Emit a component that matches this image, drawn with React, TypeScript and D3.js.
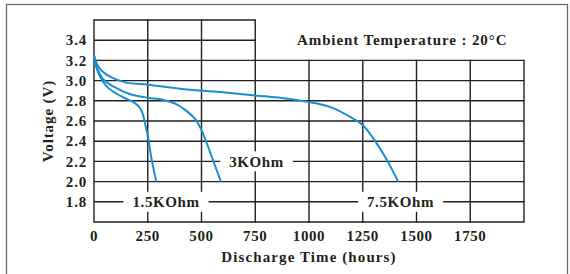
import * as d3 from 'd3'
import React from 'react'

// discharge curves, [hours, volts]
const curve15k: [number, number][] = [
  [0, 3.25], [10, 3.14], [28, 3.04], [60, 2.94], [105, 2.87], [150, 2.82], [185, 2.785],
  [210, 2.74], [225, 2.68], [240, 2.55], [253, 2.42], [268, 2.22], [290, 2.0],
]
const curve3k: [number, number][] = [
  [0, 3.25], [15, 3.12], [40, 3.02], [75, 2.96], [110, 2.92], [170, 2.865], [250, 2.83],
  [320, 2.81], [380, 2.77], [430, 2.7], [470, 2.62], [500, 2.51], [540, 2.29], [590, 2.0],
]
const curve75k: [number, number][] = [
  [0, 3.25], [15, 3.16], [35, 3.1], [74, 3.04], [150, 2.98], [253, 2.96], [400, 2.92],
  [586, 2.887], [750, 2.853], [900, 2.82], [1000, 2.787], [1100, 2.737], [1200, 2.63],
  [1253, 2.553], [1307, 2.403], [1361, 2.22], [1415, 2.0],
]
const series = [curve15k, curve3k, curve75k]

const xTicks = [0, 250, 500, 750, 1000, 1250, 1500, 1750, 2000]
const xTickLabels = ['0', '250', '500', '750', '1000', '1250', '1500', '1750', '']
const yTicks = [1.6, 1.8, 2.0, 2.2, 2.4, 2.6, 2.8, 3.0, 3.2, 3.4, 3.6]
const yTickLabels = ['', '1.8', '2.0', '2.2', '2.4', '2.6', '2.8', '3.0', '3.2', '3.4', '']

// curve name tags: text, hours, volts
const tagText = ['1.5KOhm', '3KOhm', '7.5KOhm']
const tagHours = [335, 756, 1426]
const tagVolts = [1.8, 2.2, 1.8]

const W = 570, H = 274
const ink = '#231f20'
const blue = '#1690cf'
const font = '"Liberation Serif", "Times New Roman", serif'

export default function App() {
  const ref = React.useRef<SVGSVGElement>(null)

  React.useEffect(() => {
    const svg = d3.select(ref.current!)
    svg.selectAll('*').remove()

    const x = d3.scaleLinear().domain([0, 2000]).range([94, 524])
    const y = d3.scaleLinear().domain([1.6, 3.6]).range([222, 20])
    const cutHours = 750, cutVolts = 3.2 // upper right corner is left open for the title

    // outer frame
    svg.append('rect').attr('x', 6.5).attr('y', 4.5).attr('width', 561).attr('height', 300)
      .attr('fill', 'none').attr('stroke', '#6d6a6a').attr('stroke-width', 1.3)

    const grid = svg.append('g').attr('stroke', ink).attr('stroke-width', 1.4)
    xTicks.forEach(t => {
      const top = t <= cutHours ? 3.6 : cutVolts
      grid.append('line').attr('x1', x(t)).attr('x2', x(t)).attr('y1', y(top) - 0.7).attr('y2', y(1.6) + 0.7)
    })
    yTicks.forEach(t => {
      const right = t > cutVolts ? cutHours : 2000
      grid.append('line').attr('x1', x(0)).attr('x2', x(right)).attr('y1', y(t)).attr('y2', y(t))
    })

    const txt = (sel: d3.Selection<SVGGElement, unknown, null, undefined>) => sel
      .attr('font-family', font).attr('font-weight', 'bold').attr('font-size', 15).attr('fill', ink)

    const xl = svg.append('g').call(txt).attr('text-anchor', 'middle')
    xTicks.forEach((t, i) => {
      xl.append('text').attr('x', x(t)).attr('y', 241).attr('letter-spacing', 0.6).text(xTickLabels[i])
    })
    const yl = svg.append('g').call(txt).attr('text-anchor', 'end')
    yTicks.forEach((t, i) => {
      yl.append('text').attr('x', 87).attr('y', y(t)).attr('dy', '0.35em').attr('letter-spacing', 0.8).text(yTickLabels[i])
    })

    svg.append('g').call(txt).append('text').attr('x', (x(0) + x(2000)) / 2).attr('y', 262)
      .attr('text-anchor', 'middle').attr('letter-spacing', 1.1).text('Discharge Time (hours)')
    svg.append('g').call(txt).append('text')
      .attr('transform', `translate(53,${(y(1.6) + y(3.6)) / 2}) rotate(-90)`)
      .attr('text-anchor', 'middle').attr('letter-spacing', 0.9).text('Voltage (V)')
    svg.append('g').call(txt).append('text').attr('x', 297).attr('y', 45)
      .attr('letter-spacing', 0.9).text('Ambient Temperature : 20°C')

    const line = d3.line<[number, number]>().x(d => x(d[0])).y(d => y(d[1])).curve(d3.curveCatmullRom.alpha(0.5))
    svg.append('g').selectAll('path').data(series).join('path')
      .attr('d', d => line(d)!).attr('fill', 'none').attr('stroke', blue).attr('stroke-width', 2)

    const tags = svg.append('g').call(txt)
    tagText.forEach((s, i) => {
      const g = tags.append('g')
      const rect = g.append('rect').attr('fill', '#fff')
      const t = g.append('text').attr('x', x(tagHours[i])).attr('y', y(tagVolts[i])).attr('dy', '0.35em')
        .attr('text-anchor', 'middle').attr('letter-spacing', 0.6).text(s)
      const b = (t.node() as SVGTextElement).getBBox()
      rect.attr('x', b.x - 9).attr('y', y(tagVolts[i]) - 10).attr('width', b.width + 18).attr('height', 20)
    })
  }, [])

  return (
    <svg ref={ref} width={W} height={H} style={{ position: 'absolute', left: 0, top: 0, background: '#fff' }} />
  )
}
